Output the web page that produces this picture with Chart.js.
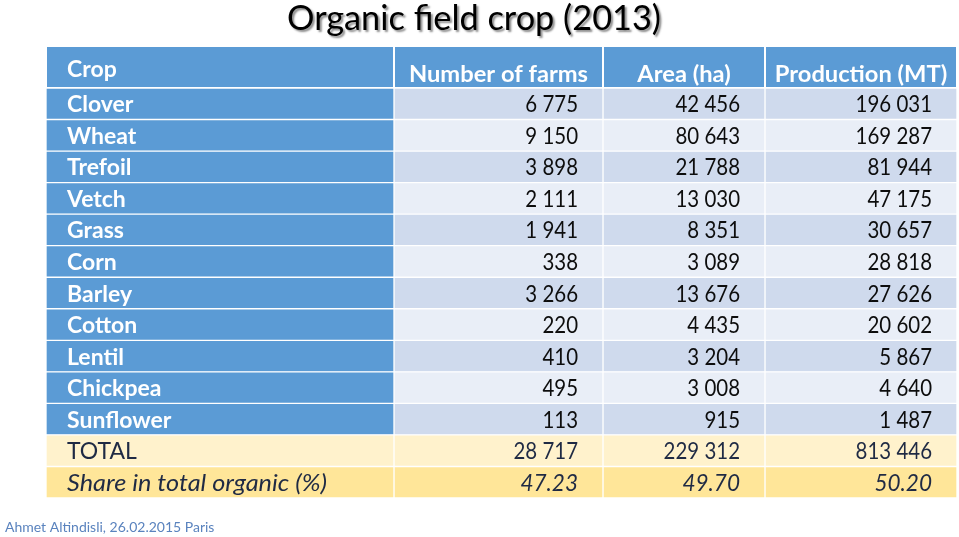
<!DOCTYPE html>
<html>
<head>
<meta charset="utf-8">
<script src="https://cdn.jsdelivr.net/npm/chart.js@4.4.1/dist/chart.umd.min.js"></script>
<style>
  html, body { margin: 0; padding: 0; background: #fff; }
  #wrap { width: 959px; height: 537px; }
</style>
</head>
<body>
<div id="wrap"><canvas id="cropTable" width="959" height="537"></canvas></div>
<script>
// table data
const headers = ["Crop", "Number of farms", "Area (ha)", "Production (MT)"];
const crops = ["Clover", "Wheat", "Trefoil", "Vetch", "Grass", "Corn", "Barley",
               "Cotton", "Lentil", "Chickpea", "Sunflower"];
const farms = [6775, 9150, 3898, 2111, 1941, 338, 3266, 220, 410, 495, 113];
const area = [42456, 80643, 21788, 13030, 8351, 3089, 13676, 4435, 3204, 3008, 915];
const production = [196031, 169287, 81944, 47175, 30657, 28818, 27626, 20602, 5867, 4640, 1487];
const totals = [28717, 229312, 813446];
const shares = [47.23, 49.70, 50.20];
const totalLabel = "TOTAL";
const shareLabel = "Share in total organic (%)";

// layout (not data)
const colWidths = [348, 209, 162, 192];
const FONT = "Lato, 'Open Sans', sans-serif";

const rowLabels = crops.concat([totalLabel, shareLabel]);
const nCrops = crops.length;

function fmt(n) {
    return String(n).replace(/\B(?=(\d{3})+(?!\d))/g, " ");
}

const cellText = [
    rowLabels,
    farms.map(fmt).concat([fmt(totals[0]), shares[0].toFixed(2)]),
    area.map(fmt).concat([fmt(totals[1]), shares[1].toFixed(2)]),
    production.map(fmt).concat([fmt(totals[2]), shares[2].toFixed(2)])
];

function cellColor(col, row) {
    if (row === nCrops) return "#FFF2CC";
    if (row === nCrops + 1) return "#FFE699";
    if (col === 0) return "#5B9BD5";
    return row % 2 === 0 ? "#CFDAED" : "#E9EEF7";
}

function drawText(ctx, text, x, y, align, font, color, sx) {
    ctx.save();
    ctx.font = font;
    ctx.fillStyle = color;
    ctx.textAlign = align;
    ctx.textBaseline = "alphabetic";
    ctx.translate(x, y);
    ctx.scale(sx || 1, 1);
    ctx.fillText(text, 0, 0);
    ctx.restore();
}

const tablePlugin = {
    id: "tablePlugin",
    afterDraw(chart) {
        const ctx = chart.ctx;
        const metas = chart.data.datasets.map((d, i) => chart.getDatasetMeta(i));

        // title
        ctx.save();
        ctx.shadowColor = "rgba(0,0,0,0.45)";
        ctx.shadowOffsetX = 2;
        ctx.shadowOffsetY = 2;
        ctx.shadowBlur = 2;
        drawText(ctx, "Organic field crop (2013)", 474, 30, "center",
                 "35px " + FONT, "#000", 0.98);
        ctx.restore();

        // header row
        const hTop = 47, hBottom = chart.chartArea.top;
        metas.forEach((meta, c) => {
            const el = meta.data[0];
            const x0 = Math.min(el.base, el.x), x1 = Math.max(el.base, el.x);
            ctx.fillStyle = "#fff";
            ctx.fillRect(x0, hTop - 1, x1 - x0, hBottom - hTop + 1);
            ctx.fillStyle = "#5B9BD5";
            ctx.fillRect(x0 + 1, hTop, x1 - x0 - 2, hBottom - hTop - 1);
            const font = "bold 23px " + FONT;
            if (c === 0) {
                drawText(ctx, headers[c], x0 + 21, 77, "left", font, "#fff", 1);
            } else {
                drawText(ctx, headers[c], (x0 + x1) / 2, 82, "center", font, "#fff", 1.03);
            }
        });

        // cell texts
        metas.forEach((meta, c) => {
            meta.data.forEach((el, r) => {
                const x0 = Math.min(el.base, el.x), x1 = Math.max(el.base, el.x);
                const y = el.y + 8.5;
                let style = "", color = "#0d0d0d", sx = 0.89;
                if (c === 0) sx = 1;
                if (r < nCrops && c === 0) { style = "bold "; color = "#fff"; }
                if (r >= nCrops) color = "#1F2A44";
                if (r === nCrops + 1) {
                    style = "italic ";
                    sx = c === 0 ? 1.1 : 0.98;
                }
                const font = style + "23px " + FONT;
                if (c === 0) {
                    drawText(ctx, cellText[c][r], x0 + 21, y, "left", font, color, sx);
                } else {
                    drawText(ctx, cellText[c][r], x1 - 25, y, "right", font, color, sx);
                }
            });
        });

        // footer
        drawText(ctx, "Ahmet Altindisli, 26.02.2015 Paris", 5, 532, "left",
                 "14px " + FONT, "#5A83BE", 1);
    }
};

new Chart(
    document.getElementById("cropTable"),
    {
        type: "bar",
        data: {
            labels: rowLabels,
            datasets: headers.map((h, c) => ({
                label: h,
                data: rowLabels.map(() => colWidths[c]),
                backgroundColor: ctx => cellColor(c, ctx.dataIndex),
                borderColor: "#ffffff",
                borderWidth: 1,
                borderSkipped: false,
                barPercentage: 1,
                categoryPercentage: 1
            }))
        },
        options: {
            indexAxis: "y",
            responsive: false,
            animation: false,
            layout: { padding: { left: 46, right: 2, top: 88, bottom: 39 } },
            plugins: {
                legend: { display: false },
                tooltip: { enabled: false },
                title: { display: false }
            },
            scales: {
                x: {
                    stacked: true,
                    display: false,
                    min: 0,
                    max: colWidths.reduce((a, b) => a + b, 0)
                },
                y: {
                    stacked: true,
                    display: false
                }
            }
        },
        plugins: [tablePlugin]
    }
);
</script>
</body>
</html>
